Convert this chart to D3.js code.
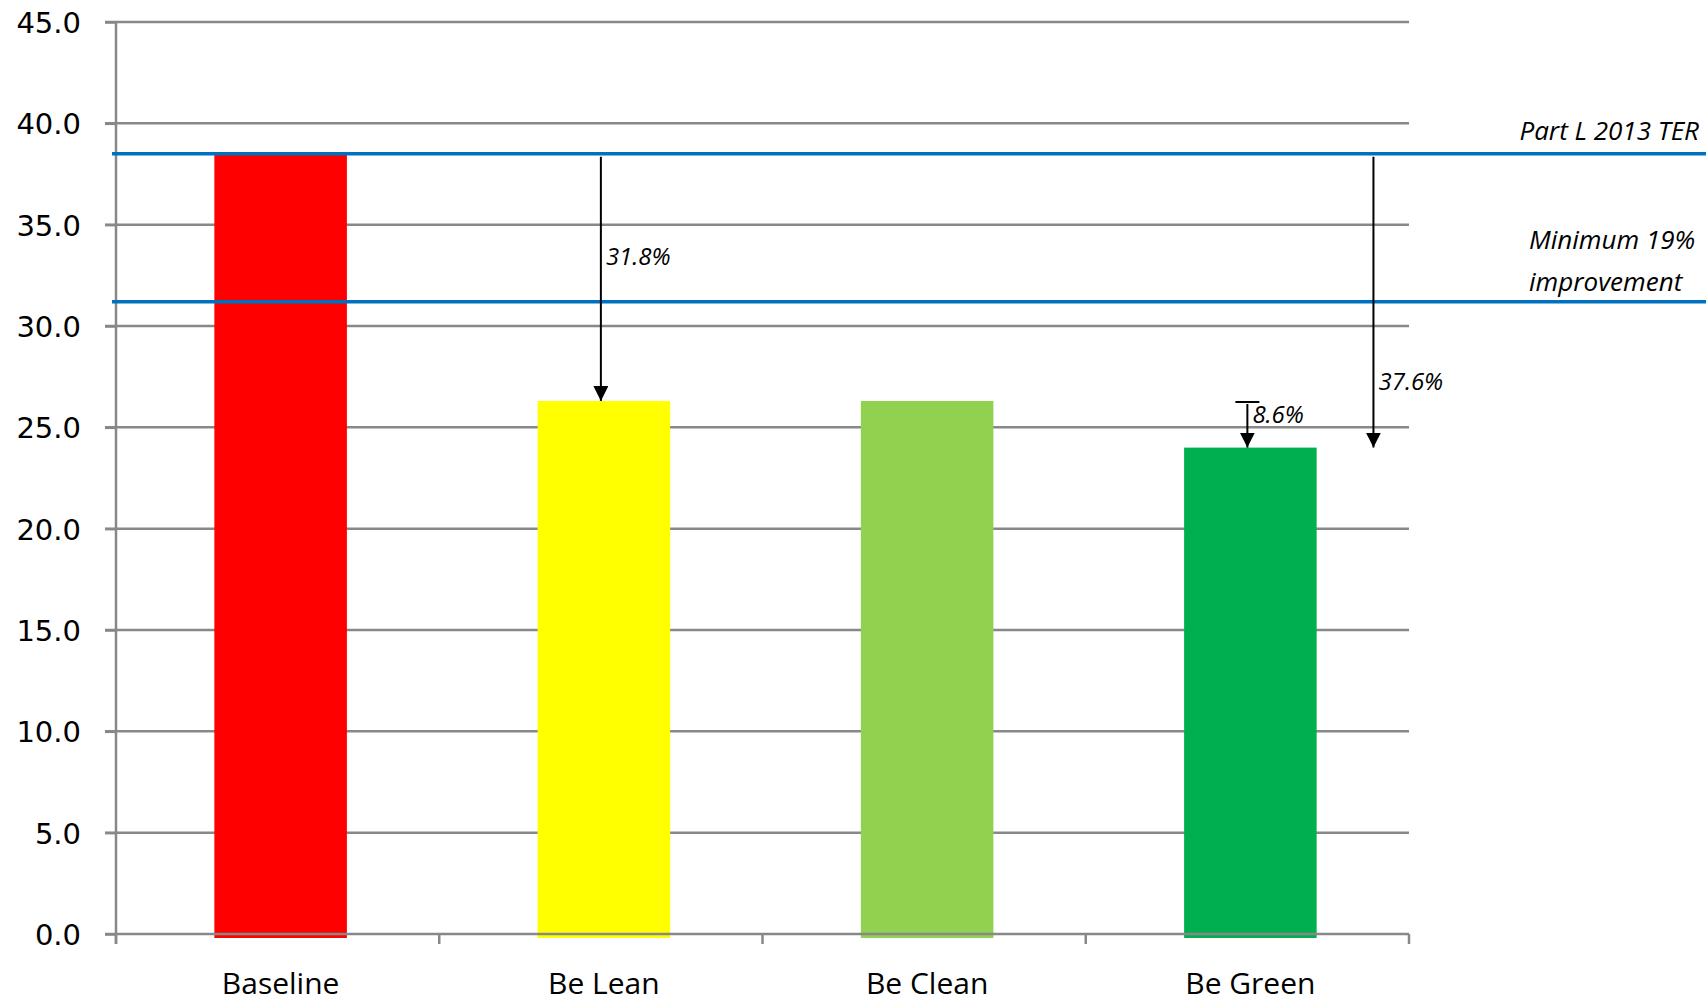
<!DOCTYPE html>
<html>
<head>
  <style>
    body {
      margin: 0;
      padding: 0;
      background: white;
    }
    svg { display: block; }
  </style>
</head>
<body>
  <div id="chart"></div>

  <script src="https://cdnjs.cloudflare.com/ajax/libs/d3/7.8.5/d3.min.js"></script>
  <script>
    // chart values
    const categories = ['Baseline', 'Be Lean', 'Be Clean', 'Be Green'];
    const values = [38.5, 26.3, 26.3, 24.0];
    const barColors = ['#ff0000', '#ffff00', '#92d050', '#00b050'];
    const yTicks = [0, 5, 10, 15, 20, 25, 30, 35, 40, 45];

    // reference lines
    const refLines = [
      { value: 38.5, label: ['Part L 2013 TER'] },
      { value: 31.2, label: ['Minimum 19%', 'improvement'] }
    ];

    // reduction arrows: position in category units (0..4), from value, to value
    const arrows = [
      { pos: 1.5, from: 38.5, to: 26.3, label: '31.8%', cap: false },
      { pos: 3.5, from: 26.3, to: 24.0, label: '8.6%', cap: true },
      { pos: 3.89, from: 38.5, to: 24.0, label: '37.6%', cap: false }
    ];

    const width = 1706;
    const height = 1003;
    const margin = { top: 22, right: 297, bottom: 69, left: 116 };

    const svg = d3.select('#chart')
      .append('svg')
      .attr('width', width)
      .attr('height', height);

    const x = d3.scaleBand()
      .domain(categories)
      .range([margin.left + 3, width - margin.right + 3])
      .paddingInner(0.59)
      .paddingOuter(0.295);

    const xPos = d3.scaleLinear()
      .domain([0, categories.length])
      .range([margin.left, width - margin.right]);

    const y = d3.scaleLinear()
      .domain([0, 45])
      .range([height - margin.bottom, margin.top]);

    const grey = '#888888';

    // gridlines
    svg.append('g')
      .selectAll('line')
      .data(yTicks.filter(d => d > 0))
      .join('line')
      .attr('x1', margin.left - 11)
      .attr('x2', width - margin.right)
      .attr('y1', d => y(d))
      .attr('y2', d => y(d))
      .attr('stroke', grey)
      .attr('stroke-width', 2.5);

    // bars
    svg.append('g')
      .selectAll('rect')
      .data(values)
      .join('rect')
      .attr('x', (d, i) => x(categories[i]))
      .attr('width', x.bandwidth())
      .attr('y', d => y(d))
      .attr('height', d => y(0) - y(d) + 4)
      .attr('fill', (d, i) => barColors[i]);

    // y axis
    const yAxis = svg.append('g')
      .attr('transform', `translate(${margin.left},0)`)
      .call(d3.axisLeft(y)
        .tickValues(yTicks)
        .tickFormat(d3.format('.1f'))
        .tickSize(11)
        .tickSizeOuter(0)
        .tickPadding(24));
    yAxis.select('.domain').remove();
    yAxis.selectAll('.tick line').attr('stroke', grey).attr('stroke-width', 2.5);
    yAxis.selectAll('text')
      .attr('font-family', 'DejaVu Sans')
      .attr('font-size', 29)
      .attr('dy', '0.36em')
      .attr('fill', '#000');

    // vertical axis line
    svg.append('line')
      .attr('x1', margin.left).attr('x2', margin.left)
      .attr('y1', y(45)).attr('y2', y(0) + 10)
      .attr('stroke', grey).attr('stroke-width', 2.5);

    // x axis line and category boundary ticks
    svg.append('line')
      .attr('x1', margin.left - 11).attr('x2', width - margin.right)
      .attr('y1', y(0)).attr('y2', y(0))
      .attr('stroke', grey).attr('stroke-width', 2.5);

    svg.append('g')
      .selectAll('line')
      .data(d3.range(categories.length + 1))
      .join('line')
      .attr('x1', d => xPos(d)).attr('x2', d => xPos(d))
      .attr('y1', y(0)).attr('y2', y(0) + 10)
      .attr('stroke', grey).attr('stroke-width', 2.5);

    svg.append('g')
      .selectAll('text')
      .data(categories)
      .join('text')
      .attr('x', d => x(d) + x.bandwidth() / 2)
      .attr('y', y(0) + 60)
      .attr('text-anchor', 'middle')
      .attr('font-family', 'Open Sans')
      .attr('font-size', 30)
      .attr('fill', '#000')
      .text(d => d);

    // reference lines
    svg.append('g')
      .selectAll('line')
      .data(refLines)
      .join('line')
      .attr('x1', margin.left - 4)
      .attr('x2', width)
      .attr('y1', d => y(d.value))
      .attr('y2', d => y(d.value))
      .attr('stroke', '#0070c0')
      .attr('stroke-width', 3.5);

    const refLabelFont = { family: 'Open Sans', size: 26 };
    svg.append('text')
      .attr('x', width - 7)
      .attr('y', y(refLines[0].value) - 14)
      .attr('text-anchor', 'end')
      .attr('font-family', refLabelFont.family)
      .attr('font-style', 'italic')
      .attr('font-size', refLabelFont.size)
      .attr('fill', '#000')
      .text(refLines[0].label[0]);

    svg.append('text')
      .attr('x', width - 177)
      .attr('y', y(refLines[1].value) - 53)
      .attr('font-family', refLabelFont.family)
      .attr('font-style', 'italic')
      .attr('font-size', refLabelFont.size)
      .attr('fill', '#000')
      .selectAll('tspan')
      .data(refLines[1].label)
      .join('tspan')
      .attr('x', width - 177)
      .attr('dy', (d, i) => i === 0 ? 0 : 42)
      .text(d => d);

    // arrows
    svg.append('defs').append('marker')
      .attr('id', 'head')
      .attr('viewBox', '0 0 10 10')
      .attr('refX', 10)
      .attr('refY', 5)
      .attr('markerUnits', 'userSpaceOnUse')
      .attr('markerWidth', 15)
      .attr('markerHeight', 15)
      .attr('orient', 'auto')
      .append('path')
      .attr('d', 'M0,0L10,5L0,10Z')
      .attr('fill', '#000');

    const arrowG = svg.append('g')
      .selectAll('g')
      .data(arrows)
      .join('g');

    arrowG.append('line')
      .attr('x1', d => xPos(d.pos)).attr('x2', d => xPos(d.pos))
      .attr('y1', d => y(d.from) + 3)
      .attr('y2', d => y(d.to))
      .attr('stroke', '#000')
      .attr('stroke-width', 2)
      .attr('marker-end', 'url(#head)');

    arrowG.filter(d => d.cap).append('line')
      .attr('x1', d => xPos(d.pos) - 12).attr('x2', d => xPos(d.pos) + 12)
      .attr('y1', d => y(d.from) + 1).attr('y2', d => y(d.from) + 1)
      .attr('stroke', '#000')
      .attr('stroke-width', 2);

    arrowG.append('text')
      .attr('x', d => xPos(d.pos) + 5)
      .attr('y', (d, i) => [265, 423, 390][i])
      .attr('font-family', 'Open Sans')
      .attr('font-style', 'italic')
      .attr('font-size', 24)
      .attr('fill', '#000')
      .text(d => d.label);
  </script>
</body>
</html>
